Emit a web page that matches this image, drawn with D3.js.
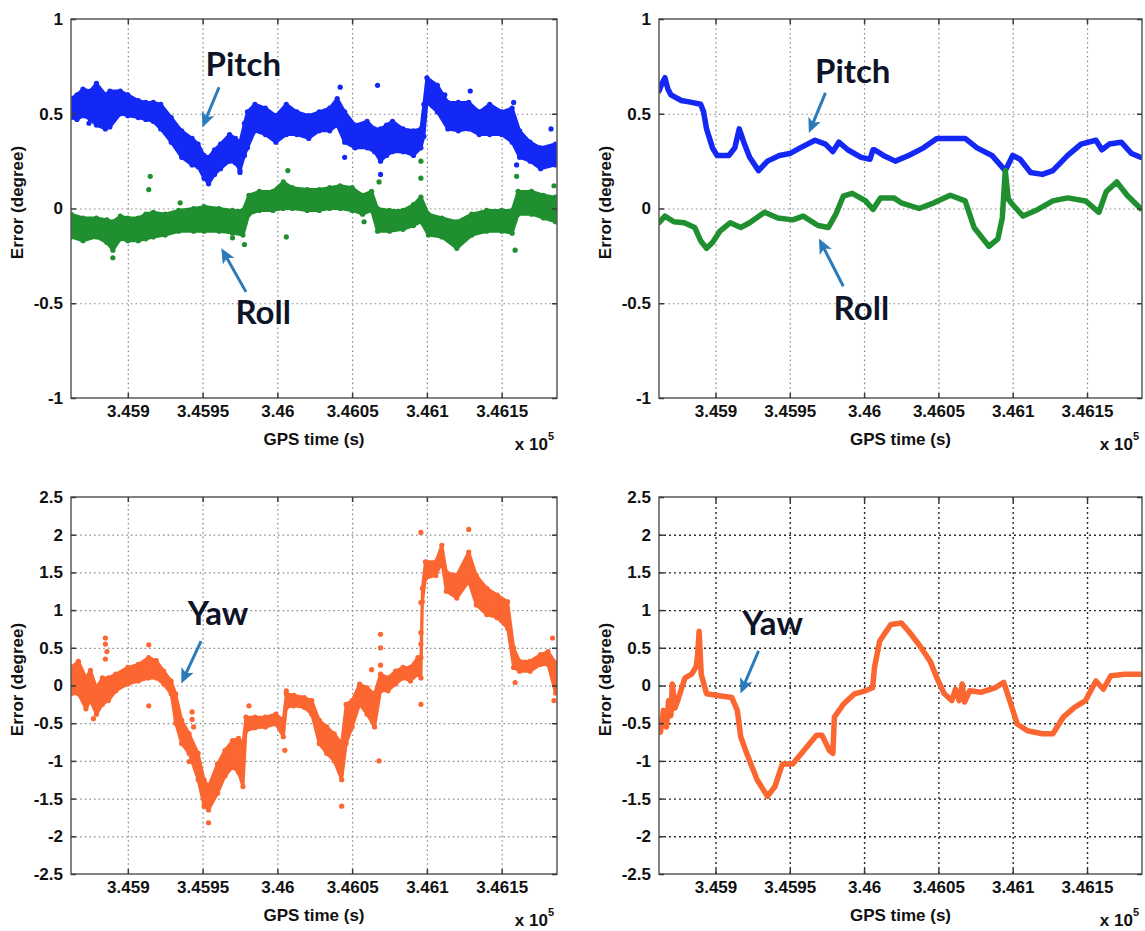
<!DOCTYPE html>
<html>
<head>
<meta charset="utf-8">
<script src="https://cdn.jsdelivr.net/npm/d3@7"></script>
<style>
  body { margin: 0; background: #fff; }
  svg { display: block; }
</style>
</head>
<body>
<svg id="fig" width="1145" height="931"></svg>
<script>
// ---- shared axes ----
const timeDomain = [345862, 346187];
const xTicks = [345900, 345950, 346000, 346050, 346100, 346150];
const xTickLabels = ["3.459", "3.4595", "3.46", "3.4605", "3.461", "3.4615"];
const attTicks = [-1, -0.5, 0, 0.5, 1];
const attTickLabels = ["-1", "-0.5", "0", "0.5", "1"];
const yawTicks = [-2.5, -2, -1.5, -1, -0.5, 0, 0.5, 1, 1.5, 2, 2.5];
const yawTickLabels = ["-2.5", "-2", "-1.5", "-1", "-0.5", "0", "0.5", "1", "1.5", "2", "2.5"];

// ---- left column: noisy solution, band rows are [time, low, high] ----
const pitchBandA = [
  [345862,0.48,0.58],[345866,0.47,0.60],[345870,0.49,0.63],[345875,0.47,0.62],[345879,0.44,0.66],
  [345885,0.42,0.60],[345888,0.43,0.62],[345895,0.50,0.62],[345900,0.49,0.60],[345907,0.48,0.57],
  [345912,0.47,0.56],[345917,0.46,0.56],[345922,0.42,0.55],[345929,0.35,0.48],[345936,0.27,0.41],
  [345943,0.23,0.37],[345947,0.22,0.34],[345951,0.16,0.28],[345954,0.13,0.27],[345958,0.18,0.31],
  [345962,0.21,0.34],[345968,0.25,0.39],[345972,0.24,0.37],[345975,0.20,0.35],[345978,0.28,0.45],
  [345980,0.32,0.51],[345985,0.41,0.55],[345992,0.39,0.53],[345999,0.35,0.49],[346006,0.39,0.55],
  [346013,0.39,0.51],[346021,0.37,0.49],[346028,0.41,0.51],[346035,0.41,0.53],[346040,0.44,0.58],
  [346045,0.35,0.51],[346052,0.32,0.44],[346060,0.32,0.46],[346065,0.30,0.42],[346069,0.25,0.42],
  [346073,0.28,0.44],[346077,0.30,0.46],[346084,0.30,0.42],[346091,0.28,0.41],[346096,0.32,0.42],
  [346098,0.38,0.55],[346100,0.56,0.69],[346107,0.51,0.65],[346114,0.42,0.56],[346121,0.41,0.56],
  [346128,0.42,0.56],[346135,0.39,0.51],[346142,0.39,0.55],[346150,0.39,0.51],[346157,0.35,0.53],
  [346162,0.27,0.41],[346169,0.25,0.35],[346176,0.21,0.32],[346186,0.23,0.34]
];
const pitchStrayA = [
  [345874,0.45],[346042,0.64],[346067,0.65],[346069,0.18],[346129,0.62],[346158,0.56],
  [346183,0.42],[346160,0.23],[346045,0.27],[345975,0.19],[346112,0.60]
];
const rollBandA = [
  [345862,-0.15,-0.03],[345870,-0.17,-0.05],[345879,-0.15,-0.05],[345886,-0.18,-0.06],[345890,-0.22,-0.07],
  [345895,-0.16,-0.04],[345900,-0.17,-0.05],[345907,-0.17,-0.05],[345912,-0.16,-0.03],[345917,-0.15,-0.02],
  [345925,-0.14,-0.03],[345934,-0.12,-0.01],[345944,-0.12,0.00],[345951,-0.12,0.01],[345961,-0.12,0.00],
  [345970,-0.13,-0.01],[345977,-0.14,-0.01],[345981,-0.03,0.07],[345988,-0.01,0.09],[345997,-0.01,0.09],
  [346004,0.00,0.14],[346010,0.00,0.11],[346020,-0.01,0.10],[346028,-0.01,0.10],[346035,0.00,0.11],
  [346042,0.00,0.12],[346050,-0.01,0.11],[346057,-0.03,0.07],[346063,-0.01,0.09],[346067,-0.12,0.00],
  [346075,-0.12,-0.01],[346084,-0.11,-0.01],[346091,-0.09,0.02],[346096,-0.07,0.06],[346101,-0.14,-0.03],
  [346110,-0.15,-0.05],[346120,-0.21,-0.07],[346130,-0.14,-0.03],[346140,-0.12,-0.01],[346150,-0.12,-0.01],
  [346157,-0.13,-0.01],[346161,-0.03,0.09],[346170,-0.03,0.09],[346178,-0.05,0.07],[346186,-0.07,0.06]
];
const rollStrayA = [
  [345890,-0.26],[345915,0.17],[345914,0.10],[345970,-0.155],[345978,-0.19],[346007,0.20],
  [346006,-0.15],[346068,0.14],[346096,0.25],[346096,0.16],[346160,0.17],[346159,-0.22],
  [346185,0.12],[345935,0.03],[346058,-0.07]
];
const yawBandA = [
  [345862,-0.11,0.24],[345867,-0.11,0.32],[345872,-0.31,0.10],[345875,-0.20,0.20],[345879,-0.38,-0.03],
  [345883,-0.25,0.10],[345887,-0.20,0.10],[345892,-0.07,0.15],[345900,0.02,0.24],[345907,0.06,0.28],
  [345914,0.10,0.37],[345919,0.10,0.33],[345924,0.02,0.19],[345929,-0.11,0.06],[345932,-0.50,-0.11],
  [345936,-0.77,-0.46],[345941,-0.90,-0.64],[345947,-1.25,-0.90],[345951,-1.60,-1.25],[345954,-1.65,-1.34],
  [345960,-1.43,-1.04],[345965,-1.20,-0.86],[345970,-1.08,-0.73],[345974,-1.15,-0.70],[345977,-1.34,-0.77],
  [345979,-0.60,-0.42],[345985,-0.56,-0.42],[345992,-0.55,-0.42],[345999,-0.51,-0.38],[346004,-0.68,-0.46],
  [346006,-0.29,-0.11],[346011,-0.27,-0.13],[346018,-0.29,-0.16],[346023,-0.38,-0.20],[346028,-0.77,-0.46],
  [346033,-0.90,-0.55],[346038,-1.00,-0.64],[346043,-1.25,-0.77],[346046,-0.77,-0.25],[346050,-0.55,-0.20],
  [346055,-0.25,0.02],[346060,-0.38,-0.03],[346065,-0.55,-0.11],[346069,-0.07,0.15],[346074,-0.07,0.10],
  [346079,0.02,0.19],[346084,0.10,0.24],[346089,0.06,0.24],[346094,0.15,0.37],[346096,0.10,0.37],
  [346097,1.11,1.29],[346099,1.42,1.64],[346106,1.46,1.64],[346110,1.64,1.86],[346113,1.25,1.50],
  [346120,1.16,1.46],[346128,1.38,1.77],[346133,1.07,1.46],[346140,0.94,1.29],[346147,0.90,1.20],
  [346154,0.76,1.11],[346158,0.24,0.50],[346162,0.19,0.32],[346169,0.19,0.32],[346176,0.28,0.41],
  [346181,0.28,0.45],[346186,-0.10,0.30]
];
const yawStrayA = [
  [345885,0.63],[345885,0.55],[345886,0.45],[345885,0.35],[345877,-0.44],[345914,0.54],[345914,-0.27],
  [345941,-1.01],[345943,-0.35],[345943,-0.45],[345944,-0.55],[345954,-1.82],[346005,-0.86],[346006,-0.07],
  [346043,-1.60],[346069,0.68],[346069,0.50],[346069,0.27],[346068,-1.00],[346063,0.21],[346096,2.03],
  [346096,0.70],[346096,0.55],[346096,-0.25],[346096,1.10],[346128,2.07],[346159,0.04],[346184,0.63],
  [346185,-0.20],[345981,-0.27]
];

// ---- right column: smoothed solution, rows are [time, value] ----
const pitchLineB = [
  [345862,0.62],[345864,0.66],[345866,0.69],[345868,0.63],[345870,0.60],[345877,0.57],[345884,0.56],
  [345890,0.55],[345892,0.51],[345894,0.42],[345898,0.32],[345901,0.28],[345909,0.28],[345913,0.32],
  [345916,0.42],[345919.5,0.34],[345923,0.27],[345929,0.20],[345935,0.25],[345943,0.28],[345950,0.29],
  [345957,0.32],[345967,0.36],[345974,0.34],[345979,0.30],[345983,0.35],[345989,0.31],[345998,0.27],
  [346004,0.26],[346006,0.31],[346007,0.31],[346013,0.28],[346021,0.25],[346030,0.28],[346040,0.32],
  [346049,0.37],[346059,0.37],[346068,0.37],[346076,0.32],[346086,0.28],[346095,0.20],[346100,0.28],
  [346105,0.26],[346112,0.19],[346120,0.18],[346127,0.20],[346137,0.28],[346146,0.34],[346156,0.36],
  [346160,0.31],[346165,0.34],[346173,0.35],[346180,0.29],[346186,0.27]
];
const rollLineB = [
  [345862,-0.075],[345866,-0.04],[345872,-0.07],[345879,-0.075],[345886,-0.10],[345890,-0.17],
  [345894,-0.21],[345898,-0.18],[345903,-0.12],[345910,-0.075],[345917,-0.10],[345923,-0.075],
  [345933,-0.02],[345942,-0.05],[345952,-0.06],[345959,-0.04],[345969,-0.09],[345976,-0.10],
  [345981,-0.03],[345986,0.065],[345992,0.08],[346001,0.04],[346006,-0.005],[346011,0.056],
  [346020,0.056],[346025,0.03],[346037,0.0],[346047,0.03],[346058,0.07],[346068,0.04],[346074,-0.10],
  [346084,-0.20],[346090,-0.16],[346093,-0.05],[346095,0.20],[346097,0.05],[346100,0.02],[346107,-0.04],
  [346117,-0.005],[346127,0.04],[346137,0.056],[346149,0.04],[346158,-0.02],[346163,0.09],
  [346170,0.14],[346177,0.07],[346186,0.0]
];
const yawLineB = [
  [345862,-0.51],[345863,-0.62],[345865,-0.33],[345867,-0.55],[345868.5,-0.20],[345870,-0.40],
  [345871,0.02],[345872.7,-0.30],[345874.6,-0.20],[345877,-0.05],[345879.5,0.10],[345884,0.15],
  [345887,0.25],[345888,0.41],[345889,0.72],[345890.4,0.15],[345894,-0.11],[345903.7,-0.14],
  [345911,-0.16],[345914.7,-0.33],[345917,-0.68],[345921,-0.90],[345928,-1.25],[345935,-1.47],
  [345940,-1.34],[345945,-1.04],[345952,-1.04],[345959.6,-0.86],[345968,-0.66],[345971.7,-0.66],
  [345976.6,-0.86],[345979,-0.90],[345980,-0.42],[345986,-0.25],[345993.6,-0.11],[346000.8,-0.07],
  [346005.7,-0.03],[346007,0.24],[346010.5,0.59],[346018,0.81],[346025,0.83],[346030,0.72],
  [346037,0.54],[346044.5,0.32],[346049,0.10],[346054,-0.11],[346059,-0.20],[346061.5,-0.05],
  [346064,-0.20],[346066,0.02],[346067.6,-0.22],[346071,-0.07],[346078.5,-0.09],[346088,-0.03],
  [346094,0.04],[346098,-0.20],[346103,-0.51],[346110,-0.60],[346120,-0.64],[346127,-0.64],
  [346134,-0.42],[346141.6,-0.29],[346149,-0.20],[346156,0.06],[346161,-0.05],[346166,0.13],
  [346175.6,0.15],[346186,0.15]
];

// ---- styling ----
const PITCH = "#1428f5";
const ROLL = "#1f8f30";
const YAW = "#fb6631";
const ARROW = "#2b7bba";
const NOTE = "#0e1428";
const FONT = "'Liberation Sans', Arial, sans-serif";

const svg = d3.select("#fig");

svg.append("defs").append("marker")
  .attr("id", "head")
  .attr("viewBox", "0 0 10 10")
  .attr("refX", 7).attr("refY", 5)
  .attr("markerUnits", "userSpaceOnUse")
  .attr("markerWidth", 15).attr("markerHeight", 15)
  .attr("orient", "auto")
  .append("path").attr("d", "M0,0.5 L10,5 L0,9.5 L2.5,5 Z").attr("fill", ARROW);

const panels = [
  { left: 71, right: 557, top: 19, bottom: 398, yDomain: [-1, 1], yTicks: attTicks, yLabels: attTickLabels,
    grid: "#8a8a8a", dash: "1.6,3", gridW: 1.2,
    bands: [{ rows: pitchBandA, stray: pitchStrayA, color: PITCH }, { rows: rollBandA, stray: rollStrayA, color: ROLL }],
    notes: [
      { text: "Pitch", at: [345952, 0.70], from: [345961, 0.64], to: [345951, 0.45] },
      { text: "Roll", at: [345972, -0.61], from: [345979, -0.44], to: [345964, -0.23] }
    ] },
  { left: 659, right: 1142, top: 19, bottom: 398, yDomain: [-1, 1], yTicks: attTicks, yLabels: attTickLabels,
    grid: "#8a8a8a", dash: "1.6,3", gridW: 1.2,
    lines: [{ rows: pitchLineB, color: PITCH }, { rows: rollLineB, color: ROLL }],
    notes: [
      { text: "Pitch", at: [345967, 0.66], from: [345974, 0.61], to: [345964, 0.42] },
      { text: "Roll", at: [345979.5, -0.59], from: [345986, -0.41], to: [345971, -0.18] }
    ] },
  { left: 71, right: 557, top: 497, bottom: 874, yDomain: [-2.5, 2.5], yTicks: yawTicks, yLabels: yawTickLabels,
    grid: "#8a8a8a", dash: "1.6,3", gridW: 1.2,
    bands: [{ rows: yawBandA, stray: yawStrayA, color: YAW }],
    notes: [
      { text: "Yaw", at: [345940, 0.80], from: [345949, 0.59], to: [345937, 0.08] }
    ] },
  { left: 659, right: 1142, top: 497, bottom: 874, yDomain: [-2.5, 2.5], yTicks: yawTicks, yLabels: yawTickLabels,
    grid: "#2a2a2a", dash: "2,3", gridW: 1.4,
    lines: [{ rows: yawLineB, color: YAW }],
    notes: [
      { text: "Yaw", at: [345918, 0.67], from: [345929, 0.46], to: [345918, -0.05] }
    ] }
];

function styleText(sel, size) {
  sel.attr("font-family", FONT).attr("font-weight", "bold").attr("font-size", size).attr("fill", "#111");
}

panels.forEach(p => {
  const g = svg.append("g");
  const x = d3.scaleLinear().domain(timeDomain).range([p.left, p.right]);
  const y = d3.scaleLinear().domain(p.yDomain).range([p.bottom, p.top]);
  const h = p.bottom - p.top, w = p.right - p.left;

  // dotted grid
  const gx = g.append("g").attr("transform", `translate(0,${p.bottom})`)
    .call(d3.axisBottom(x).tickValues(xTicks).tickSize(-h).tickFormat(""));
  const gy = g.append("g").attr("transform", `translate(${p.left},0)`)
    .call(d3.axisLeft(y).tickValues(p.yTicks.slice(1, -1)).tickSize(-w).tickFormat(""));
  [gx, gy].forEach(s => {
    s.select(".domain").remove();
    s.selectAll("line").attr("stroke", p.grid).attr("stroke-width", p.gridW).attr("stroke-dasharray", p.dash);
  });

  const clipId = "clip" + p.left + "_" + p.top;
  g.append("clipPath").attr("id", clipId).append("rect")
    .attr("x", p.left).attr("y", p.top).attr("width", w).attr("height", h);
  const plot = g.append("g").attr("clip-path", `url(#${clipId})`);

  // scattered solution: dense band plus stray samples
  (p.bands || []).forEach(b => {
    const area = d3.area().x(d => x(d[0])).y0(d => y(d[1])).y1(d => y(d[2]));
    plot.append("path").datum(b.rows).attr("d", area)
      .attr("fill", b.color).attr("stroke", b.color).attr("stroke-width", 3).attr("stroke-linejoin", "round");
    const edge = b.rows.flatMap(d => [[d[0], d[1]], [d[0], d[2]]]).concat(b.stray);
    plot.append("g").selectAll("circle").data(edge).join("circle")
      .attr("cx", d => x(d[0])).attr("cy", d => y(d[1])).attr("r", 2.6).attr("fill", b.color);
  });

  // smoothed solution: thick marker trace
  (p.lines || []).forEach(l => {
    const line = d3.line().x(d => x(d[0])).y(d => y(d[1]));
    plot.append("path").datum(l.rows).attr("d", line)
      .attr("fill", "none").attr("stroke", l.color).attr("stroke-width", 5.5)
      .attr("stroke-linejoin", "round").attr("stroke-linecap", "round");
  });

  // frame
  g.append("rect").attr("x", p.left).attr("y", p.top).attr("width", w).attr("height", h)
    .attr("fill", "none").attr("stroke", "#5a5a5a").attr("stroke-width", 1.5);

  // axes with inward ticks
  const axB = g.append("g").attr("transform", `translate(0,${p.bottom})`)
    .call(d3.axisBottom(x).tickValues(xTicks).tickFormat((d, i) => xTickLabels[i]).tickSize(-5).tickSizeOuter(0).tickPadding(7));
  const axT = g.append("g").attr("transform", `translate(0,${p.top})`)
    .call(d3.axisTop(x).tickValues(xTicks).tickFormat("").tickSize(-5).tickSizeOuter(0));
  const axL = g.append("g").attr("transform", `translate(${p.left},0)`)
    .call(d3.axisLeft(y).tickValues(p.yTicks).tickFormat((d, i) => p.yLabels[i]).tickSize(-5).tickSizeOuter(0).tickPadding(8));
  const axR = g.append("g").attr("transform", `translate(${p.right},0)`)
    .call(d3.axisRight(y).tickValues(p.yTicks).tickFormat("").tickSize(-5).tickSizeOuter(0));
  [axB, axT, axL, axR].forEach(s => {
    s.select(".domain").remove();
    s.selectAll("line").attr("stroke", "#3a3a3a").attr("stroke-width", 1.5);
    s.selectAll("text").call(styleText, 17);
  });

  // axis titles
  g.append("text").attr("x", (p.left + p.right) / 2).attr("y", p.bottom + 47)
    .attr("text-anchor", "middle").text("GPS time (s)").call(styleText, 17);
  g.append("text").attr("transform", `translate(${p.left - 48},${(p.top + p.bottom) / 2 - 6}) rotate(-90)`)
    .attr("text-anchor", "middle").text("Error (degree)").call(styleText, 17);
  const mult = g.append("text").attr("x", p.right - 3).attr("y", p.bottom + 52)
    .attr("text-anchor", "end").call(styleText, 17);
  mult.append("tspan").text("x 10");
  mult.append("tspan").attr("dy", -10).attr("font-size", 11).text("5");

  // annotations
  p.notes.forEach(n => {
    g.append("line")
      .attr("x1", x(n.from[0])).attr("y1", y(n.from[1]))
      .attr("x2", x(n.to[0])).attr("y2", y(n.to[1]))
      .attr("stroke", ARROW).attr("stroke-width", 3).attr("marker-end", "url(#head)");
    g.append("text").attr("x", x(n.at[0])).attr("y", y(n.at[1]))
      .attr("font-family", "Lato, 'Open Sans', sans-serif").attr("font-weight", "bold")
      .attr("font-size", 33).attr("fill", NOTE).text(n.text);
  });
});
</script>
</body>
</html>
